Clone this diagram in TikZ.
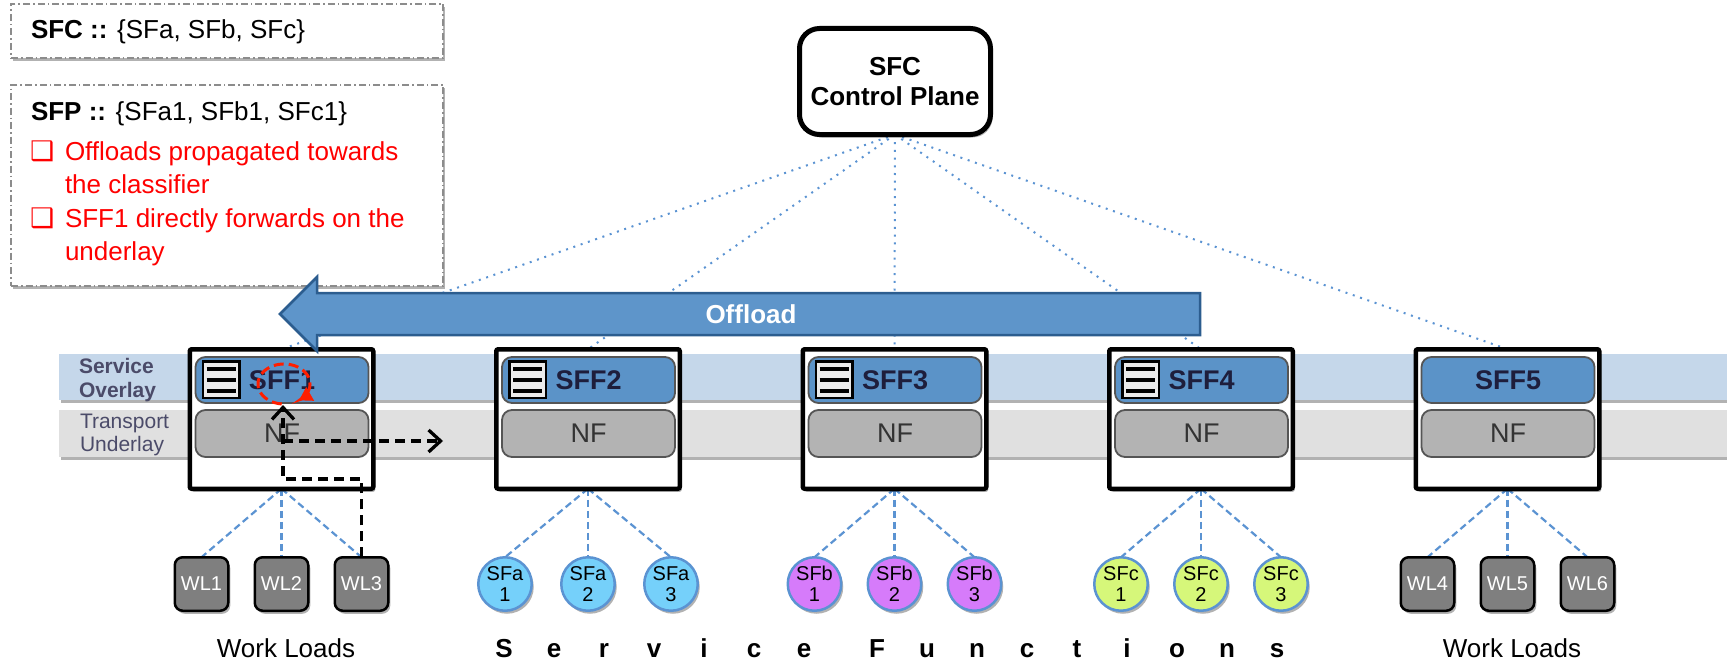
\documentclass[tikz,border=0pt]{standalone}
\usepackage{fontspec}
\setmainfont{Liberation Sans}
\newfontfamily\symfont{DejaVu Sans}
\usetikzlibrary{shadows,arrows.meta,calc,backgrounds}
\definecolor{bandblue}{RGB}{197,215,234}
\definecolor{bandgray}{RGB}{224,224,224}
\definecolor{hdrblue}{RGB}{91,147,200}
\definecolor{arrowblue}{RGB}{94,149,202}
\definecolor{arrowedge}{RGB}{44,93,143}
\definecolor{nfgray}{RGB}{179,179,179}
\definecolor{edgegray}{RGB}{85,85,85}
\definecolor{slate}{RGB}{75,75,105}
\definecolor{navy}{RGB}{30,30,60}
\definecolor{sfa}{RGB}{117,208,250}
\definecolor{sfb}{RGB}{214,123,250}
\definecolor{sfc}{RGB}{214,247,122}
\definecolor{wlgray}{RGB}{127,127,127}
\definecolor{redx}{RGB}{255,30,0}
\definecolor{dotblue}{RGB}{91,147,210}
\definecolor{textred}{RGB}{255,0,0}
\newcommand\fsz[2]{\fontsize{#1}{#2}\selectfont}
\tikzset{
  shad/.style={drop shadow={shadow xshift=2pt,shadow yshift=-3pt,opacity=0.3,fill=black}},
  infobox/.style={draw=black!45,line width=1.4pt,dash pattern=on 7pt off 3pt on 1.5pt off 3pt,fill=white,shad},
  cpbox/.style={draw=black,line width=5pt,rounded corners=20pt,fill=white,shad,minimum width=191pt,minimum height=106pt,align=center,font=\bfseries\fsz{26}{30}},
  sffbox/.style={draw=black,line width=4.5pt,rounded corners=2pt,fill=white,shad,minimum width=183.5pt,minimum height=139.5pt},
  hdr/.style={draw=edgegray,line width=1.8pt,rounded corners=10pt,fill=hdrblue,minimum width=173pt,minimum height=46pt,font=\bfseries\fsz{27}{30},text=navy},
  nfbox/.style={draw=edgegray,line width=1.8pt,rounded corners=10pt,fill=nfgray,minimum width=173pt,minimum height=47pt,font=\fsz{27}{30},text=black!80},
  icon/.style={draw=black,line width=2.5pt,fill=black!8,minimum size=36.5pt},
  bar/.style={line width=4pt,black},
  wl/.style={draw=black,line width=2.5pt,rounded corners=8pt,fill=wlgray,minimum size=53.5pt,text=white,font=\fsz{20}{22},shad},
  sfn/.style={circle,draw=dotblue,line width=2.5pt,minimum size=53.5pt,align=center,font=\fsz{20}{21},shad},
  link/.style={draw=dotblue,line width=2.2pt,dash pattern=on 7pt off 4pt},
  ctrl/.style={draw=dotblue,line width=2pt,dash pattern=on 2pt off 5.7pt},
  route/.style={draw=black,line width=3.3pt,dash pattern=on 10pt off 6pt},
  txt/.style={font=\fsz{26}{30},anchor=base west},
  redtxt/.style={font=\fsz{26}{30},anchor=base west,text=textred},
  bul/.style={font=\symfont\fsz{27}{30},anchor=base west,text=textred},
  letter/.style={font=\bfseries\fsz{26}{30},anchor=base},
  bandlbl/.style={font=\bfseries\fsz{21}{24},text=slate,anchor=base west},
  bandlbln/.style={font=\fsz{21}{24},text=slate,anchor=base west},
}
\begin{document}
\begin{tikzpicture}[x=1pt,y=-1pt,every node/.style={inner sep=0pt,outer sep=0pt}]
\useasboundingbox (0,0) rectangle (1727,661);

% info boxes
\node[infobox,anchor=north west,minimum width=432pt,minimum height=54pt] (sfcbox) at (11,4) {};
\node[txt] (sfctext) at (31,39) {\textbf{SFC ::} \{SFa, SFb, SFc\}};
\node[infobox,anchor=north west,minimum width=432pt,minimum height=201pt] (sfpbox) at (11,85) {};
\node[txt] (sfptext) at (31,120) {\textbf{SFP ::} \{SFa1, SFb1, SFc1\}};
\node[bul] (b1) at (30,160) {❑};
\node[redtxt] (l1) at (65,160) {Offloads propagated towards};
\node[redtxt] (l2) at (65,193) {the classifier};
\node[bul] (b2) at (30,227) {❑};
\node[redtxt] (l3) at (65,227) {SFF1 directly forwards on the};
\node[redtxt] (l4) at (65,260) {underlay};

% control plane
\node[cpbox] (cp) at (895,81.5) {SFC\\Control Plane};

% bands
\fill[bandblue,shad] (59,354) rectangle (1727,400);
\fill[bandgray,shad] (59,410) rectangle (1727,457);
\node[bandlbl] (so1) at (79,373) {Service};
\node[bandlbl] (so2) at (79,397) {Overlay};
\node[bandlbln] (tu1) at (80,428) {Transport};
\node[bandlbln] (tu2) at (80,451) {Underlay};

% SFF boxes
\foreach \i/\c in {1/281.5,2/588,3/894.5,4/1201,5/1507.5}{
  \node[sffbox] (sff\i) at (\c,419) {};
  \node[hdr] (hdr\i) at (\c+0.5,380) {SFF\i};
  \node[nfbox] (nf\i) at (\c+0.5,433.5) {NF};
}
\foreach \i/\c in {1/281.5,2/588,3/894.5,4/1201}{
  \node[icon] (icon\i) at (\c-60.5,379.5) {};
  \foreach \dy in {-11,0,11}
    \draw[bar] ($(icon\i.center)+(-14.5,\dy)$) -- ($(icon\i.center)+(14.5,\dy)$);
}

% control lines (behind)
\begin{scope}[on background layer]
\foreach \i in {1,...,5}
  \draw[ctrl] (cp.south) -- (sff\i.north);
\end{scope}

% offload arrow
\draw[fill=arrowblue,draw=arrowedge,line width=2.5pt,line join=miter]
  (1200,293) -- (317,293) -- (317,277) -- (280,314) -- (317,351) -- (317,335) -- (1200,335) -- cycle;
\node[font=\bfseries\fsz{26}{30},text=white] (offload) at (751,314) {Offload};

% children
\foreach \n/\dx/\lbl in {1/-80/WL1,2/0/WL2,3/80/WL3}
  \node[wl] (wl\n) at (281.5+\dx,584) {\lbl};
\foreach \n/\dx/\lbl in {4/-80/WL4,5/0/WL5,6/80/WL6}
  \node[wl] (wl\n) at (1507.5+\dx,584) {\lbl};
\foreach \n/\dx in {1/-83,2/0,3/83}
  \node[sfn,fill=sfa] (sfa\n) at (588+\dx,584) {SFa\\\n};
\foreach \n/\dx in {1/-80,2/0,3/80}
  \node[sfn,fill=sfb] (sfb\n) at (894.5+\dx,584) {SFb\\\n};
\foreach \n/\dx in {1/-80,2/0,3/80}
  \node[sfn,fill=sfc] (sfc\n) at (1201+\dx,584) {SFc\\\n};

\begin{scope}[on background layer]
\foreach \n in {1,2,3} \draw[link] (sff1.south) -- (wl\n.north);
\foreach \n in {4,5,6} \draw[link] (sff5.south) -- (wl\n.north);
\foreach \n in {1,2,3} \draw[link] (sff2.south) -- (sfa\n.north);
\foreach \n in {1,2,3} \draw[link] (sff3.south) -- (sfb\n.north);
\foreach \n in {1,2,3} \draw[link] (sff4.south) -- (sfc\n.north);
\end{scope}

% bottom labels
\node[font=\fsz{26}{30},anchor=base] (wll) at (286,657) {Work Loads};
\node[font=\fsz{26}{30},anchor=base] (wlr) at (1512,657) {Work Loads};
\foreach \k/\x/\ch in {1/504/S,2/554/e,3/604/r,4/654/v,5/704/i,6/754/c,7/804/e,8/877/F,9/927/u,10/977/n,11/1027/c,12/1077/t,13/1127/i,14/1177/o,15/1227/n,16/1277/s}
  \node[letter] (sf\k) at (\x,657) {\ch};

% black route
\coordinate (turn) at (283,479);
\coordinate (upend) at (283,405);
\coordinate (fs) at (283,441);
\coordinate (fe) at (443,441);
\draw[route,-{Straight Barb[length=12pt,width=22pt]}] (wl3.north) |- (turn) -- (upend);
\draw[route,-{Straight Barb[length=12pt,width=22pt]}] (fs) -- (fe);

% red loop (bottom -> left -> top -> right -> bottom-right)
\draw[redx,line width=3pt,dash pattern=on 10pt off 5pt,-{Triangle[length=13pt,width=15pt]}]
  plot[domain=95:415,samples=60,smooth] ({284+26*cos(\x)},{384+20*sin(\x)});
\end{tikzpicture}
\end{document}
